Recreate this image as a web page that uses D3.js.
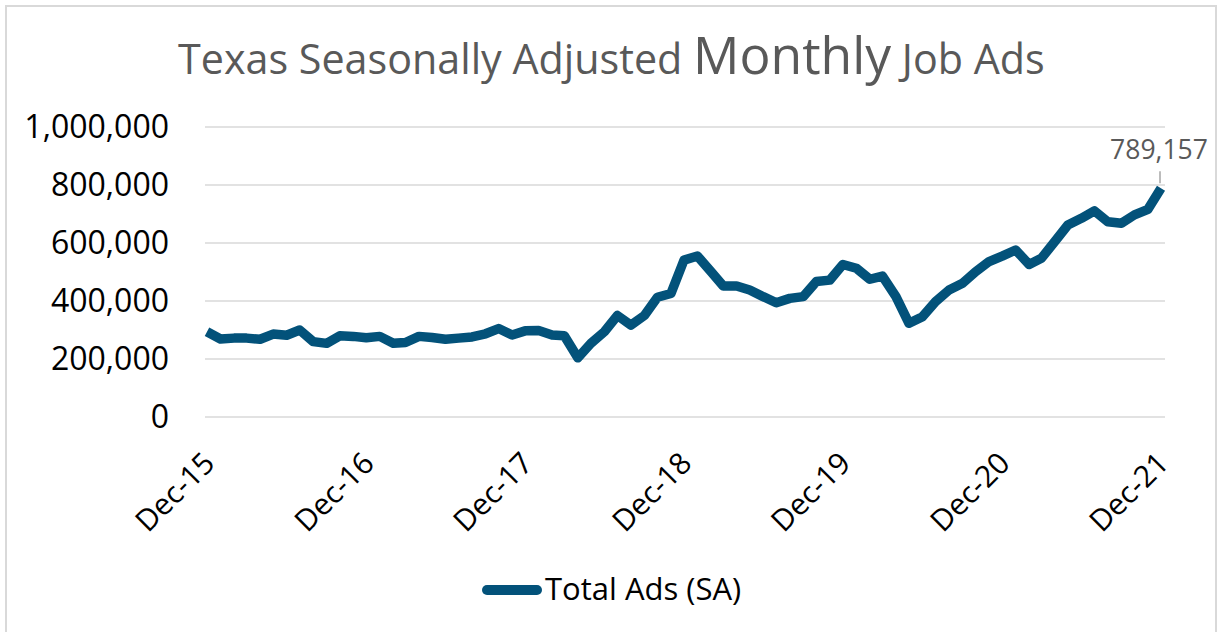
<!DOCTYPE html>
<html>
<head>
<meta charset="utf-8">
<script src="https://cdn.jsdelivr.net/npm/d3@7"></script>
<style>
  body { margin: 0; background: #fff; }
  text { font-family: "Open Sans", "Noto Sans", sans-serif; }
</style>
</head>
<body>
<div id="chart"></div>
<script>
// monthly values, Dec-15 .. Dec-21 (73 points)
const months = d3.timeMonths(new Date(2015, 11, 1), new Date(2022, 0, 1));
const totalAds = [
  294000, 269000, 272000, 272000, 268000, 286000, 282000, 300000, 260000, 254000,
  280000, 278000, 273000, 278000, 254000, 257000, 278000, 274000, 268000, 272000,
  276000, 287000, 305000, 283000, 297000, 298000, 283000, 280000, 204000, 254000,
  294000, 350000, 317000, 350000, 413000, 426000, 541000, 555000, 501000, 452000,
  452000, 438000, 415000, 394000, 409000, 415000, 467000, 472000, 526000, 513000,
  475000, 486000, 415000, 323000, 346000, 398000, 438000, 461000, 501000, 536000,
  555000, 576000, 526000, 547000, 605000, 662000, 685000, 711000, 673000, 668000,
  697000, 716000, 789157
];
const yTicks = [0, 200000, 400000, 600000, 800000, 1000000];
const xTickYears = [2015, 2016, 2017, 2018, 2019, 2020, 2021];
const seriesName = "Total Ads (SA)";

const W = 1217, H = 632;
const lineColor = "#03527a";

const svg = d3.select("#chart")
  .append("svg")
  .attr("width", W)
  .attr("height", H);

// chart frame
svg.append("rect")
  .attr("x", 6).attr("y", 6)
  .attr("width", 1210).attr("height", 640)
  .attr("fill", "none")
  .attr("stroke", "#d9d9d9")
  .attr("stroke-width", 2);

const x = d3.scaleTime()
  .domain([months[0], months[months.length - 1]])
  .range([207, 1161]);

const y = d3.scaleLinear()
  .domain([0, 1000000])
  .range([417, 127]);

// gridlines
svg.append("g")
  .selectAll("line")
  .data(yTicks)
  .join("line")
  .attr("x1", 205)
  .attr("x2", 1165)
  .attr("y1", d => y(d))
  .attr("y2", d => y(d))
  .attr("stroke", "#d9d9d9")
  .attr("stroke-width", 1.5);

// y axis labels
const yAxis = svg.append("g")
  .attr("transform", "translate(169,0)")
  .call(d3.axisLeft(y).tickValues(yTicks).tickSize(0).tickPadding(0).tickFormat(d3.format(",")));
yAxis.select(".domain").remove();
yAxis.selectAll("text")
  .attr("font-size", 32)
  .attr("fill", "#000")
  .style("font-family", "'Open Sans', sans-serif");

// x axis labels, rotated
const xTicks = xTickYears.map(yr => new Date(yr, 11, 1));
const xAxis = svg.append("g")
  .attr("transform", "translate(0,417)")
  .call(d3.axisBottom(x).tickValues(xTicks).tickSize(0).tickFormat(d3.timeFormat("%b-%y")));
xAxis.select(".domain").remove();
xAxis.selectAll("text")
  .attr("font-size", 30)
  .attr("fill", "#000")
  .style("font-family", "'Open Sans', sans-serif")
  .attr("text-anchor", "end")
  .attr("dy", 0)
  .attr("y", 0)
  .attr("transform", "translate(9,48) rotate(-45)");

// line
const line = d3.line()
  .x((d, i) => x(months[i]))
  .y(d => y(d));

svg.append("path")
  .datum(totalAds)
  .attr("d", line)
  .attr("fill", "none")
  .attr("stroke", lineColor)
  .attr("stroke-width", 9.5)
  .attr("stroke-linejoin", "round")
  .attr("stroke-linecap", "butt");

// data label on last point
const last = totalAds.length - 1;
const lx = x(months[last]), ly = y(totalAds[last]);
svg.append("line")
  .attr("x1", lx - 1).attr("x2", lx - 1)
  .attr("y1", ly - 5).attr("y2", ly - 17)
  .attr("stroke", "#a6a6a6")
  .attr("stroke-width", 1.5);
svg.append("text")
  .attr("x", lx - 2)
  .attr("y", ly - 29)
  .attr("text-anchor", "middle")
  .attr("font-size", 26.5)
  .attr("fill", "#595959")
  .text(d3.format(",")(totalAds[last]));

// title
const title = svg.append("text")
  .attr("x", 178)
  .attr("y", 74)
  .attr("fill", "#595959");
title.append("tspan").attr("font-size", 36).text("Texas Seasonally Adjusted ");
title.append("tspan").attr("font-size", 45).text("Monthly");
title.append("tspan").attr("font-size", 36).text(" Job Ads");
// fit title width to the reference span
const tw = title.node().getComputedTextLength();
if (tw > 0) {
  const k = 867 / tw;
  title.selectAll("tspan").attr("font-size", function () { return +d3.select(this).attr("font-size") * k; });
}

// legend
const legend = svg.append("g").attr("transform", "translate(482,590)");
legend.append("line")
  .attr("x1", 5).attr("x2", 55)
  .attr("y1", 0).attr("y2", 0)
  .attr("stroke", lineColor)
  .attr("stroke-width", 10)
  .attr("stroke-linecap", "round");
legend.append("text")
  .attr("x", 63)
  .attr("y", 10)
  .attr("font-size", 31)
  .attr("fill", "#000")
  .text(seriesName);
</script>
</body>
</html>
